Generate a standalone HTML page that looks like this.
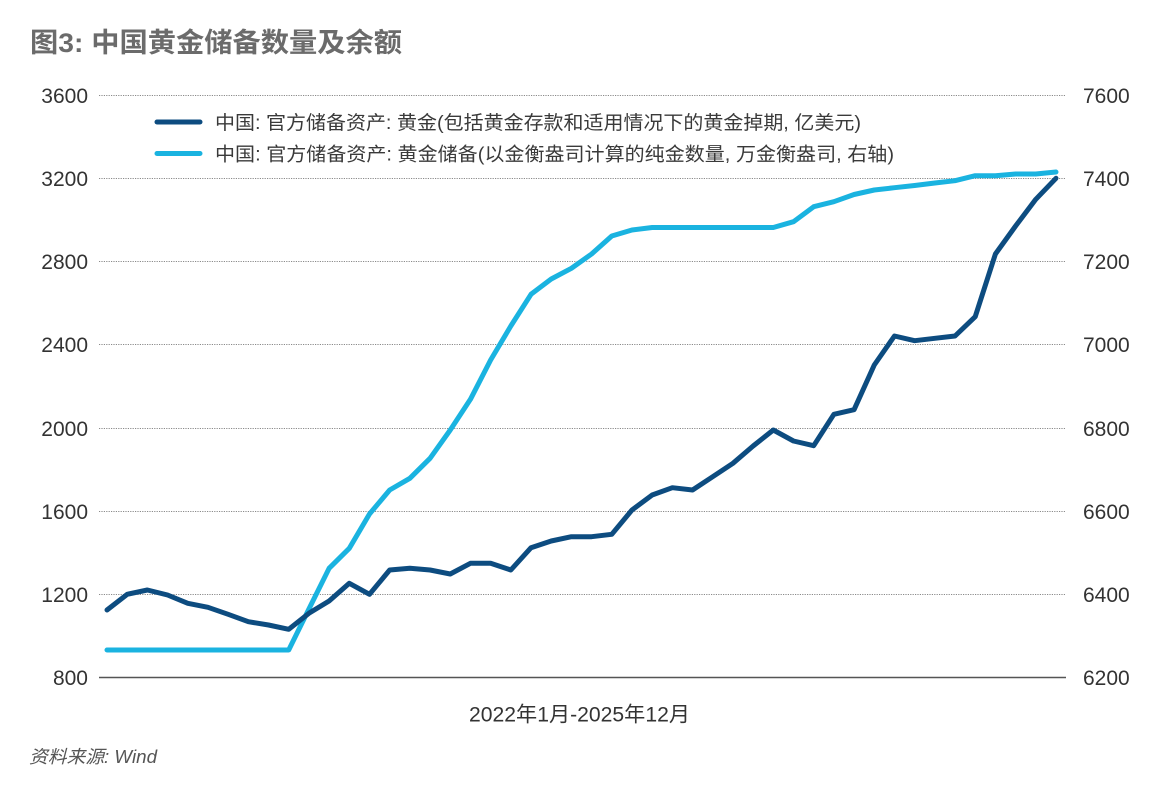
<!DOCTYPE html>
<html>
<head>
<meta charset="utf-8">
<style>
html,body{margin:0;padding:0;background:#fff;}
svg{display:block;}
</style>
</head>
<body>
<svg width="1170" height="810" viewBox="0 0 1170 810" xmlns="http://www.w3.org/2000/svg">
<rect width="1170" height="810" fill="#fff"/>
<!-- Title -->
<text x="30" y="52" font-family="Liberation Sans, 'Noto Sans CJK SC', sans-serif" font-size="27" font-weight="bold" fill="#6b6b6b" textLength="372" lengthAdjust="spacingAndGlyphs">图3: 中国黄金储备数量及余额</text>

<!-- grid -->
<g stroke="#8a8a8a" stroke-width="1" stroke-dasharray="1.2,1.2">
<line x1="99" y1="95.5" x2="1066" y2="95.5"/>
<line x1="99" y1="178.5" x2="1066" y2="178.5"/>
<line x1="99" y1="261.5" x2="1066" y2="261.5"/>
<line x1="99" y1="344.5" x2="1066" y2="344.5"/>
<line x1="99" y1="428.5" x2="1066" y2="428.5"/>
<line x1="99" y1="511.5" x2="1066" y2="511.5"/>
<line x1="99" y1="594.5" x2="1066" y2="594.5"/>
</g>
<line x1="99" y1="677.5" x2="1066" y2="677.5" stroke="#555" stroke-width="1.6"/>

<!-- left axis labels -->
<g font-family="Liberation Sans, sans-serif" font-size="21" fill="#333" text-anchor="end">
<text x="88" y="103">3600</text>
<text x="88" y="186">3200</text>
<text x="88" y="269">2800</text>
<text x="88" y="352">2400</text>
<text x="88" y="436">2000</text>
<text x="88" y="519">1600</text>
<text x="88" y="602">1200</text>
<text x="88" y="685">800</text>
</g>
<!-- right axis labels -->
<g font-family="Liberation Sans, sans-serif" font-size="21" fill="#333">
<text x="1083" y="103">7600</text>
<text x="1083" y="186">7400</text>
<text x="1083" y="269">7200</text>
<text x="1083" y="352">7000</text>
<text x="1083" y="436">6800</text>
<text x="1083" y="519">6600</text>
<text x="1083" y="602">6400</text>
<text x="1083" y="685">6200</text>
</g>

<!-- legend -->
<line x1="157" y1="122" x2="200" y2="122" stroke="#0d4c80" stroke-width="5" stroke-linecap="round"/>
<line x1="157" y1="153.5" x2="200" y2="153.5" stroke="#1ab3e0" stroke-width="5" stroke-linecap="round"/>
<g font-family="Liberation Sans, 'Noto Sans CJK SC', sans-serif" font-size="19" fill="#3a3a3a">
<text x="215" y="129" textLength="646" lengthAdjust="spacingAndGlyphs">中国: 官方储备资产: 黄金(包括黄金存款和适用情况下的黄金掉期, 亿美元)</text>
<text x="215" y="160.5" textLength="679" lengthAdjust="spacingAndGlyphs">中国: 官方储备资产: 黄金储备(以金衡盎司计算的纯金数量, 万金衡盎司, 右轴)</text>
</g>

<!-- light series (right axis) -->
<polyline fill="none" stroke="#1ab3e0" stroke-width="5" stroke-linecap="round" stroke-linejoin="round"
points="107,650 127.19,650 147.38,650 167.57,650 187.77,650 207.96,650 228.15,650 248.34,650 268.53,650 288.72,650 308.91,609 329.1,568.3 349.3,548.3 369.49,514 389.68,490 409.87,478.3 430.06,458.3 450.25,430 470.44,399.3 490.63,360 510.82,326 531.02,294.3 551.21,279 571.4,268.3 591.59,254 611.78,236 631.97,230 652.16,227.5 672.35,227.5 692.54,227.5 712.74,227.5 732.93,227.5 753.12,227.5 773.31,227.5 793.5,221.7 813.69,206.7 833.88,201.7 854.07,194.5 874.26,190 894.46,187.7 914.65,185.5 934.84,183 955.03,180.7 975.22,175.7 995.41,175.7 1015.6,174 1035.79,174 1055.98,172"/>

<!-- dark series (left axis) -->
<polyline fill="none" stroke="#0d4c80" stroke-width="5" stroke-linecap="round" stroke-linejoin="round"
points="107,610 127.19,594.3 147.38,590 167.57,595 187.77,603.3 207.96,607.3 228.15,614.3 248.34,621.7 268.53,625 288.72,629.3 308.91,613.3 329.1,601 349.3,583.3 369.49,594.3 389.68,570 409.87,568.3 430.06,570 450.25,574 470.44,563.3 490.63,563.3 510.82,570 531.02,547.7 551.21,541 571.4,536.7 591.59,536.7 611.78,534.3 631.97,510 652.16,495 672.35,487.7 692.54,490 712.74,476.7 732.93,463.3 753.12,446 773.31,430 793.5,441 813.69,445.7 833.88,414.3 854.07,409.7 874.26,365 894.46,336 914.65,340.7 934.84,338.3 955.03,336 975.22,316.7 995.41,254 1015.6,226 1035.79,199.3 1055.98,178.3"/>

<!-- x-axis label -->
<text x="469" y="721.5" font-family="Liberation Sans, 'Noto Sans CJK SC', sans-serif" font-size="21" fill="#333" textLength="221" lengthAdjust="spacingAndGlyphs">2022年1月-2025年12月</text>

<!-- source -->
<text x="29" y="763" font-family="Liberation Sans, 'Noto Sans CJK SC', sans-serif" font-size="18" font-style="italic" fill="#555" textLength="128" lengthAdjust="spacingAndGlyphs">资料来源: Wind</text>
</svg>
</body>
</html>
